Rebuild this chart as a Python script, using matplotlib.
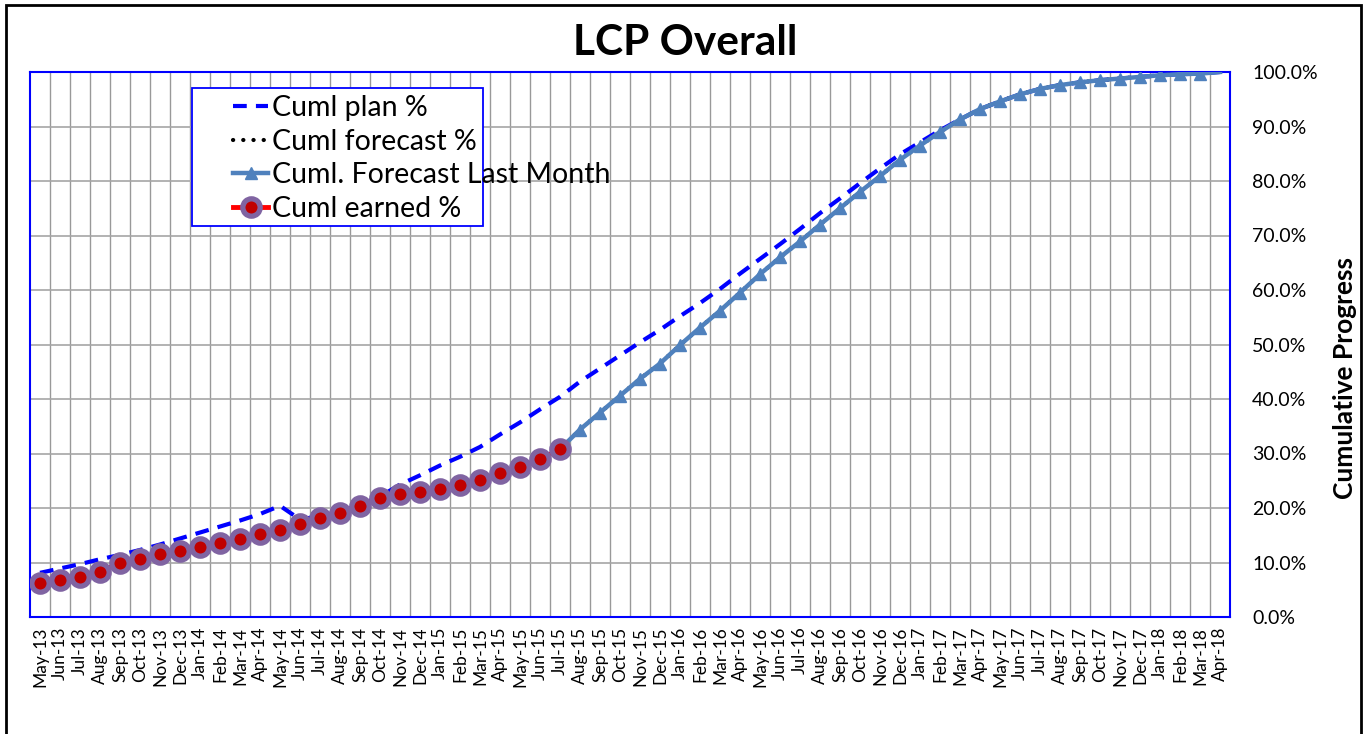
import matplotlib.pyplot as plt
from matplotlib.patches import Rectangle
from matplotlib.ticker import FixedLocator, PercentFormatter

plt.rcParams["font.family"] = ["Lato", "DejaVu Sans"]

months = [
    "May-13", "Jun-13", "Jul-13", "Aug-13", "Sep-13", "Oct-13", "Nov-13", "Dec-13",
    "Jan-14", "Feb-14", "Mar-14", "Apr-14", "May-14", "Jun-14", "Jul-14", "Aug-14",
    "Sep-14", "Oct-14", "Nov-14", "Dec-14",
    "Jan-15", "Feb-15", "Mar-15", "Apr-15", "May-15", "Jun-15", "Jul-15", "Aug-15",
    "Sep-15", "Oct-15", "Nov-15", "Dec-15",
    "Jan-16", "Feb-16", "Mar-16", "Apr-16", "May-16", "Jun-16", "Jul-16", "Aug-16",
    "Sep-16", "Oct-16", "Nov-16", "Dec-16",
    "Jan-17", "Feb-17", "Mar-17", "Apr-17", "May-17", "Jun-17", "Jul-17", "Aug-17",
    "Sep-17", "Oct-17", "Nov-17", "Dec-17",
    "Jan-18", "Feb-18", "Mar-18", "Apr-18",
]

# cumulative plan %, all months
plan = [
    8.1, 8.9, 9.7, 10.6, 11.4, 12.3, 13.3, 14.4,
    15.5, 16.6, 17.7, 18.9, 20.4, 17.9, 18.5, 19.3, 20.6, 22.1, 24.3, 26.0,
    27.8, 29.4, 31.2, 33.5, 35.7, 38.1, 40.4, 43.2, 45.6, 48.0, 50.4, 52.7,
    55.2, 57.6, 60.2, 63.0, 65.7, 68.4, 71.2, 74.1, 76.8, 79.6, 82.3, 84.9,
    87.1, 89.3, 91.3, 93.2, 94.6, 95.9, 96.9, 97.6, 98.1, 98.5, 98.8, 99.1,
    99.4, 99.6, 99.7, 100.0,
]

# earned, May-13 .. Jul-15
earned = [
    6.2, 6.7, 7.4, 8.2, 10.0, 10.7, 11.6, 12.1,
    12.9, 13.5, 14.3, 15.3, 16.0, 17.1, 18.1, 19.0, 20.4, 21.8, 22.6, 23.0,
    23.4, 24.3, 25.1, 26.4, 27.6, 28.9, 30.8,
]

# forecast (this month and last month overlap), Jul-15 .. Apr-18
forecast_start = 26
forecast = [
    30.8, 34.4, 37.5, 40.6, 43.7, 46.5,
    49.9, 53.1, 56.2, 59.5, 62.9, 66.0, 68.9, 72.0, 75.0, 78.0, 80.9, 83.9,
    86.5, 89.0, 91.3, 93.2, 94.6, 95.9, 96.9, 97.6, 98.1, 98.5, 98.8, 99.1,
    99.4, 99.6, 99.7, 100.0,
]
forecast_last = forecast

x_all = list(range(len(months)))
x_earned = x_all[:len(earned)]
x_fc = x_all[forecast_start:forecast_start + len(forecast)]

fig = plt.figure(figsize=(13.66, 7.34), dpi=100)
ax = fig.add_axes([30 / 1366, 117 / 734, 1200 / 1366, 545 / 734])

ax.plot(x_all, plan, color="#0000FF", lw=3, dashes=(3.3, 2.2), label="Cuml plan %", zorder=3)
ax.plot(x_fc, forecast, color="black", lw=3, ls=(0, (0.05, 2.4)), dash_capstyle="round",
        label="Cuml forecast %", zorder=4)
ax.plot(x_fc, forecast_last, color="#4F81BD", lw=3.2, marker="^", markersize=9,
        markevery=list(range(1, len(forecast_last) - 1)),
        label="Cuml. Forecast Last Month", zorder=5)
ax.plot(x_earned, earned, color="#FF0000", lw=3.5, marker="o", markersize=12.5,
        markerfacecolor="#C00000", markeredgecolor="#8064A2", markeredgewidth=3.8,
        label="Cuml earned %", zorder=6)

ax.set_xlim(-0.5, len(months) - 0.5)
ax.set_ylim(0, 100)
ax.set_xticks(x_all)
ax.set_xticklabels(months, rotation=90, fontsize=12.5)
ax.xaxis.set_minor_locator(FixedLocator([i + 0.5 for i in range(len(months) - 1)]))
ax.set_yticks(range(0, 101, 10))
ax.yaxis.set_major_formatter(PercentFormatter(decimals=1))
ax.yaxis.tick_right()
ax.tick_params(axis="y", length=0, pad=16, labelsize=14)
ax.tick_params(axis="x", which="both", length=0, pad=7)

ax.grid(True, axis="y", which="major", color="#a6a6a6", lw=1.2)
ax.grid(True, axis="x", which="minor", color="#999999", lw=1)
ax.set_axisbelow(True)
for sp in ax.spines.values():
    sp.set_color("#0000FF")
    sp.set_linewidth(1.5)

# legend: frame drawn separately, text runs past it like the original
ax.add_patch(Rectangle((0.135, 0.7174), 0.2425, 0.2532, transform=ax.transAxes,
                       facecolor="white", edgecolor="#0000FF", lw=1.3, zorder=7))
leg = ax.legend(loc="upper left", bbox_to_anchor=(0.169, 0.958), frameon=False,
                fontsize=20.5, handlelength=1.25, handletextpad=0.12, labelspacing=0.27,
                borderpad=0, borderaxespad=0)
leg.set_zorder(8)

fig.text(0.5015, 1 - 43 / 734, "LCP Overall", ha="center", va="center",
         fontsize=30.5, fontweight="bold")
fig.text(1345 / 1366, 1 - 378 / 734, "Cumulative Progress", ha="center", va="center",
         rotation=90, fontsize=19, fontweight="bold")

fig.add_artist(Rectangle((6 / 1366, -0.02), 1355 / 1366, 1.02 - 5 / 734,
                         transform=fig.transFigure, fill=False, edgecolor="black", lw=2))

fig.savefig("out.png", dpi=100)
